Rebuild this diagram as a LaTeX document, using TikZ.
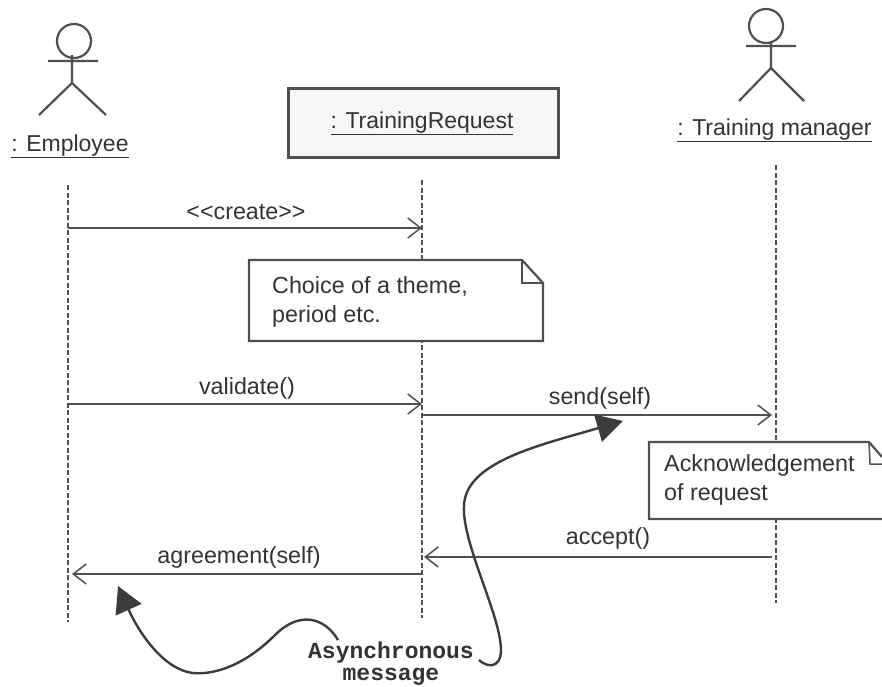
\documentclass[tikz,border=0pt]{standalone}
\usepackage{fontspec}
\setmainfont{Liberation Sans}
\newfontfamily\asyncfont{Liberation Mono}
\usetikzlibrary{arrows.meta,calc}
\definecolor{ink}{HTML}{505050}
\definecolor{txt}{HTML}{333333}
\definecolor{dark}{HTML}{3C3C3C}
\tikzset{
  lbl/.style={inner sep=0pt,text=txt,font=\fontsize{23.3}{28}\selectfont},
  head/.style={inner sep=0pt,text=txt,font=\fontsize{23}{28}\selectfont},
  lifeline/.style={draw=ink,line width=1.8pt,dash pattern=on 5pt off 2.5pt},
  msg/.style={draw=ink,line width=2.2pt,-{Straight Barb[length=13pt,width=20pt,line width=1.5pt]}},
  actorline/.style={draw=ink,line width=2.2pt},
  notebody/.style={draw=ink,line width=2.2pt,fill=white},
  callout/.style={draw=dark,line width=2.4pt,-{Triangle[length=26pt,width=28pt]}},
}
\begin{document}
\begin{tikzpicture}[x=1pt,y=-1pt]
\useasboundingbox (0,0) rectangle (882,686);
\fill[white] (0,0) rectangle (882,686);
% object box
\node[draw=ink,line width=3pt,fill=black!3,minimum width=270pt,minimum height=69pt,inner sep=0pt] (box) at (423,122.5) {};
\node[head,anchor=base] (boxlbl) at (422,128) {\underline{: TrainingRequest}};
% actors
\node[head,anchor=base] (emp) at (70,151) {\underline{: Employee}};
\node[head,anchor=base] (mgr) at (774.5,135) {\underline{: Training manager}};
\node[draw=ink,line width=2.2pt,circle,minimum size=34pt,inner sep=0pt] (h1) at (74,41) {};
\coordinate (a1l) at (48,61); \coordinate (a1r) at (98,61);
\coordinate (b1t) at (72,55); \coordinate (b1b) at (72,83);
\coordinate (l1l) at (39,115); \coordinate (l1r) at (106,115);
\draw[actorline] (a1l)--(a1r) (b1t)--(b1b) (l1l)--(b1b)--(l1r);
\node[draw=ink,line width=2.2pt,circle,minimum size=34pt,inner sep=0pt] (h2) at (766,26) {};
\coordinate (a2l) at (746,46); \coordinate (a2r) at (796,46);
\coordinate (b2t) at (771,43); \coordinate (b2b) at (771,68);
\coordinate (l2l) at (739,101); \coordinate (l2r) at (804,101);
\draw[actorline] (a2l)--(a2r) (b2t)--(b2b) (l2l)--(b2b)--(l2r);
% lifelines
\coordinate (e1) at (68,185); \coordinate (e2) at (68,622);
\coordinate (t1) at (422,180); \coordinate (t2) at (422,618);
\coordinate (m1) at (776,165); \coordinate (m2) at (776,603);
\draw[lifeline] (e1)--(e2);
\draw[lifeline] (t1)--(t2);
\draw[lifeline] (m1)--(m2);
% messages
\coordinate (c1) at (68,228); \coordinate (c2) at (422,228);
\coordinate (v1) at (68,404); \coordinate (v2) at (422,404);
\coordinate (s1) at (422,415); \coordinate (s2) at (772,415);
\coordinate (ac1) at (772,557); \coordinate (ac2) at (424,557);
\coordinate (ag1) at (422,574); \coordinate (ag2) at (72,574);
\draw[msg] (c1)--(c2);
\draw[msg] (v1)--(v2);
\draw[msg] (s1)--(s2);
\draw[msg] (ac1)--(ac2);
\draw[msg] (ag1)--(ag2);
\node[lbl,anchor=base] (lc) at (246,219) {<{}<create>{}>};
\node[lbl,anchor=base] (lv) at (247,394) {validate()};
\node[lbl,anchor=base] (ls) at (600,404) {send(self)};
\node[lbl,anchor=base] (la) at (608,544) {accept()};
\node[lbl,anchor=base] (lg) at (239,563) {agreement(self)};
% note 1
\coordinate (n1a) at (249,260); \coordinate (n1b) at (522,260);
\coordinate (n1c) at (543,283); \coordinate (n1d) at (543,341);
\coordinate (n1e) at (249,341); \coordinate (n1f) at (522,283);
\draw[notebody] (n1a)--(n1b)--(n1c)--(n1d)--(n1e)--cycle;
\draw[actorline,line width=1.5pt] (n1b)--(n1f)--(n1c);
\node[lbl,anchor=base west,align=left] (n1t) at (272,293) {Choice of a theme,};
\node[lbl,anchor=base west] (n1u) at (272,322) {period etc.};
% note 2
\coordinate (n2a) at (649,442); \coordinate (n2b) at (869,442);
\coordinate (n2c) at (882,457); \coordinate (n2d) at (882,519);
\coordinate (n2e) at (649,519); \coordinate (n2f) at (870,464); \coordinate (n2g) at (882,464);
\fill[white] (n2a)--(n2b)--(n2c)--(n2d)--(n2e)--cycle;
\draw[actorline] (n2d)--(n2e)--(n2a)--(n2b)--(n2c);
\draw[actorline,line width=1.5pt] (n2b)--(n2f)--(n2g);
\node[lbl,anchor=base west] (n2t) at (664,471) {Acknowledgement};
\node[lbl,anchor=base west] (n2u) at (664,500) {of request};
% caption and callouts
\node[inner sep=0pt,text=txt,align=center,font=\asyncfont\bfseries\fontsize{23}{22}\selectfont] (async) at (391,664) {Asynchronous\\message};
\coordinate (cs1) at (479,660);
\coordinate (ce1) at (623,421);
\coordinate (cs2) at (338,640);
\coordinate (ce2) at (118,586);
\draw[callout] (cs1) .. controls (490,670) and (505,667) .. (500,640)
  .. controls (495,605) and (462,540) .. (464,506)
  .. controls (465,462) and (540,445) .. (ce1);
\draw[callout] (cs2) .. controls (325,618) and (300,610) .. (275,635)
  .. controls (245,665) and (215,675) .. (193,673)
  .. controls (165,670) and (140,635) .. (ce2);
\end{tikzpicture}
\end{document}
